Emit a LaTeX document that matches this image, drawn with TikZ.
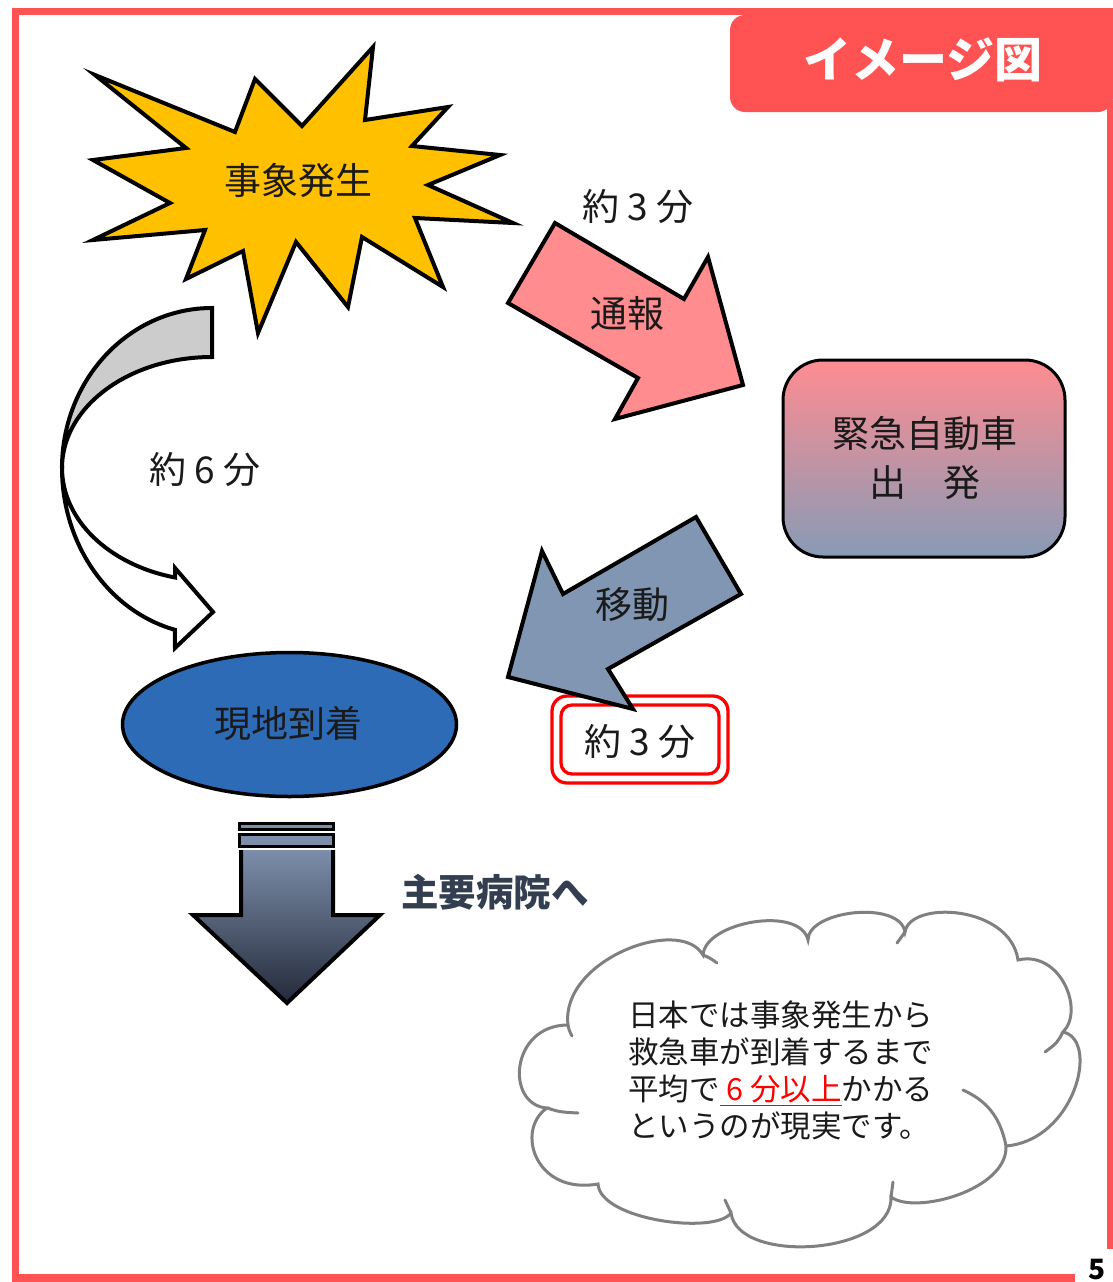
\documentclass[tikz,border=0pt]{standalone}
\usepackage{fontspec}
\setmainfont{Noto Sans CJK JP}
\definecolor{framered}{RGB}{255,83,83}
\definecolor{stargold}{RGB}{255,192,0}
\definecolor{pinkfill}{RGB}{255,140,143}
\definecolor{bluefill}{RGB}{128,150,178}
\definecolor{ellblue}{RGB}{46,107,182}
\definecolor{rrtop}{RGB}{255,140,145}
\definecolor{rrbot}{RGB}{135,155,182}
\definecolor{arrtop}{RGB}{125,142,170}
\definecolor{arrbot}{RGB}{35,42,58}
\definecolor{desttext}{RGB}{51,63,80}
\definecolor{cloudgray}{RGB}{128,128,128}
\definecolor{textdark}{RGB}{26,26,26}
\definecolor{grayband}{RGB}{204,204,204}
\begin{document}
\begin{tikzpicture}[x=1pt,y=-1pt,
  lbl/.style={font=\fontsize{37}{44}\selectfont, text=textdark, inner sep=0pt},
  outl/.style={draw=black, line width=4, line join=miter},
  cloudline/.style={draw=cloudgray, line width=3, line cap=round}]
\useasboundingbox (0,0) rectangle (1113,1282);
\fill[white] (0,0) rectangle (1113,1282);

% frame
\draw[framered, line width=7] (15.5,1282) -- (15.5,11.5) -- (1113,11.5);
\draw[framered, line width=6] (1110,100) -- (1110,1249);
\draw[framered, line width=8] (12,1278) -- (1075,1278);
% tab
\fill[framered, rounded corners=15] (730,15) rectangle (1113,112);
\fill[framered] (1080,8) rectangle (1113,40);
\node[font=\fontsize{48}{52}\selectfont\bfseries, text=white, inner sep=0pt] (tab) at (923,60) {イメージ図};

% star
\draw[outl, fill=stargold] (95,75) -- (235,132) -- (255,79) -- (302,126) -- (373,47) -- (365,120)
  -- (448,107) -- (412,146) -- (500,155) -- (428,185) -- (513,223) -- (415,218) -- (443,287)
  -- (362,237) -- (348,307) -- (296,242) -- (258,333) -- (243,251) -- (186,279) -- (205,230)
  -- (93,240) -- (170,203) -- (93,160) -- (186,148) -- cycle;
\node[lbl] (ev) at (298,180) {事象発生};

% curved arrow
\draw[outl, fill=grayband] (212,308) arc[start angle=-90, end angle=-180, x radius=150, y radius=160]
  arc[start angle=-180, end angle=-90, x radius=150, y radius=111] -- cycle;
\draw[outl, fill=white] (62,468) arc[start angle=180, end angle=104.3, x radius=150, y radius=167]
  -- (175,648) -- (213,612) -- (175,568) -- (175,577.5)
  arc[start angle=104.3, end angle=180, x radius=150, y radius=113] -- cycle;
\node[lbl] (t6) at (205,470) {約 6 分};

% pink arrow
\draw[outl, fill=pinkfill] (555,223) -- (684,299) -- (708,257) -- (743,385) -- (615,419) -- (638,378) -- (508,303) -- cycle;
\node[lbl] (t3a) at (638,207) {約 3 分};
\node[lbl] (tsu) at (627,313) {通報};

% rounded rect
\draw[draw=black, line width=3, top color=rrtop, bottom color=rrbot, rounded corners=40] (783,360) rectangle (1065,557);
\node[lbl, align=center, font=\fontsize{37}{49}\selectfont] (kyu) at (925,458) {緊急自動車\\出　発};

% red double box
\draw[red, line width=3.3, fill=white, rounded corners=15] (552,696) rectangle (728,783);
\draw[red, line width=3.3, rounded corners=11] (561,705) rectangle (719,774);
\node[lbl] (t3b) at (640,742) {約 3 分};

% blue arrow
\draw[outl, fill=bluefill] (696,517) -- (741,594) -- (608,669) -- (633,709) -- (508,677) -- (542,551) -- (563,594) -- cycle;
\node[lbl] (ido) at (632,605) {移動};

% ellipse
\draw[draw=black, line width=3.5, fill=ellblue] (289.5,724.5) ellipse [x radius=167, y radius=72];
\node[lbl] (gen) at (288,723) {現地到着};

% down arrow
\draw[black, line width=3, fill=arrtop] (239.5,823.2) rectangle (333.5,829.2);
\draw[black, line width=3, fill=arrtop] (239.5,834) rectangle (333.5,846.5);
\path[top color=arrtop, bottom color=arrbot] (241,850) -- (333,850) -- (333,915) -- (380,915) -- (287,1003) -- (193,915) -- (241,915) -- cycle;
\draw[black, line width=4, line join=miter] (241,850) -- (241,915) -- (193,915) -- (287,1003) -- (380,915) -- (333,915) -- (333,850);
\node[font=\fontsize{37.5}{42}\selectfont\bfseries, text=desttext, inner sep=0pt] (dest) at (495,892) {主要病院へ};

% cloud
\draw[cloudline, fill=white] (568,1025)
  .. controls (560,960) and (680,915) .. (703,955)
  .. controls (705,922) and (800,905) .. (808,940)
  .. controls (808,910) and (900,900) .. (905,932)
  .. controls (910,900) and (1010,905) .. (1018,960)
  .. controls (1060,950) and (1085,1010) .. (1063,1032)
  .. controls (1100,1040) and (1075,1140) .. (1006,1146)
  .. controls (1008,1190) and (915,1215) .. (891,1197)
  .. controls (893,1255) and (738,1265) .. (731,1213)
  .. controls (715,1235) and (600,1220) .. (598,1184)
  .. controls (535,1195) and (515,1130) .. (547,1108)
  .. controls (505,1105) and (510,1025) .. (568,1025) -- cycle;
\draw[cloudline] (547,1108) .. controls (560,1112) .. (578,1113);
\draw[cloudline] (568,1025) .. controls (569,1030) .. (572,1036);
\draw[cloudline] (703,955) .. controls (710,958) .. (717,963);
\draw[cloudline] (905,932) .. controls (901,937) .. (897,943);
\draw[cloudline] (1063,1032) .. controls (1057,1043) .. (1045,1052);
\draw[cloudline] (1006,1146) .. controls (1000,1115) and (985,1100) .. (963,1090);
\draw[cloudline] (891,1197) .. controls (892,1190) .. (893,1182);
\draw[cloudline] (731,1213) .. controls (728,1206) .. (725,1200);
\node[anchor=north west, inner sep=0pt, align=left, text=textdark, font=\fontsize{30.5}{37}\selectfont] (cl) at (628,1001)
  {日本では事象発生から\\救急車が到着するまで\\平均で\textcolor{red}{\underline{\ 6 分以上}}かかる\\というのが現実です。};

% page number
\node[anchor=north, inner sep=0pt, font=\fontsize{28}{32}\selectfont\bfseries] (pg) at (1097,1259) {5};
\end{tikzpicture}
\end{document}
